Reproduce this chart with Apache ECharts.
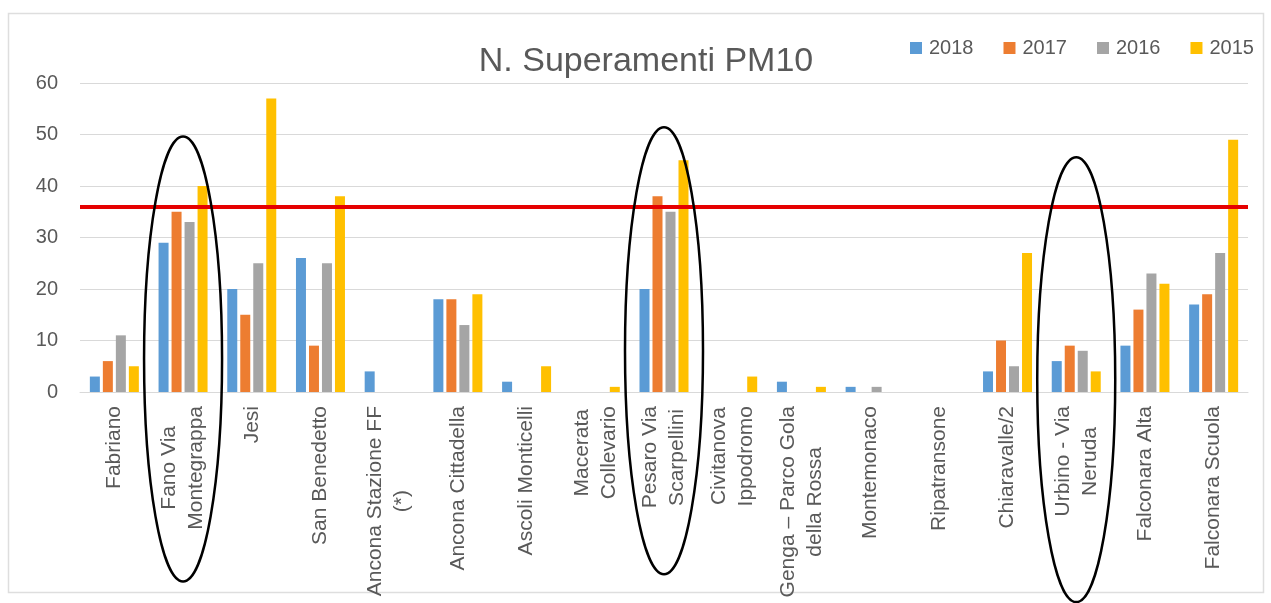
<!DOCTYPE html>
<html>
<head>
<meta charset="utf-8">
<title>N. Superamenti PM10</title>
<script src="https://cdn.jsdelivr.net/npm/echarts@6/dist/echarts.min.js"></script>
<style>
  html, body { margin: 0; padding: 0; background: #ffffff; }
  #chart { width: 1271px; height: 603px; }
</style>
</head>
<body>
<div id="chart"></div>
<script>
// Monitoring stations (line breaks follow the wrapped axis labels)
const stations = [
  'Fabriano',
  'Fano Via\nMontegrappa',
  'Jesi',
  'San Benedetto',
  'Ancona Stazione FF\n(*)',
  'Ancona Cittadella',
  'Ascoli Monticelli',
  'Macerata\nCollevario',
  'Pesaro Via\nScarpellini',
  'Civitanova\nIppodromo',
  'Genga – Parco Gola\ndella Rossa',
  'Montemonaco',
  'Ripatransone',
  'Chiaravalle/2',
  'Urbino - Via\nNeruda',
  'Falconara Alta',
  'Falconara Scuola'
];

// Number of PM10 daily-limit exceedances per year
const years = ['2018', '2017', '2016', '2015'];
const v2018 = [3, 29, 20, 26, 4, 18, 2, 0, 20, 0, 2, 1, 0, 4, 6, 9, 17];
const v2017 = [6, 35, 15, 9, 0, 18, 0, 0, 38, 0, 0, 0, 0, 10, 9, 16, 19];
const v2016 = [11, 33, 25, 25, 0, 13, 0, 0, 35, 0, 0, 1, 0, 5, 8, 23, 27];
const v2015 = [5, 40, 57, 38, 0, 19, 5, 1, 45, 3, 1, 0, 0, 27, 4, 21, 49];

// Reference threshold drawn as a red horizontal line
const limitLine = 36;

// Y axis ticks
const yTicks = { min: 0, max: 60, step: 10 };

// Stations circled on the chart, with the vertical extent of each ellipse in axis units
const circled = [
  { station: 1, top: 49.6, bottom: -36.8 },
  { station: 8, top: 51.4, bottom: -35.4 },
  { station: 14, top: 45.6, bottom: -40.8 }
];

const colors = ['#5B9BD5', '#ED7D31', '#A5A5A5', '#FFC000'];
const textGrey = '#595959';
const fontFamily = '"Liberation Sans", Arial, sans-serif';
const labelSize = 21;

// Wrapped station names: each shorter line is padded on its axis-side end so
// that the lines of one label are centred on each other.
const measureCtx = document.createElement('canvas').getContext('2d');
measureCtx.font = labelSize + 'px "Liberation Sans", Arial, sans-serif';
const labelRich = {
  t: { align: 'right', fontSize: labelSize, lineHeight: 27, color: textGrey, fontFamily: fontFamily }
};
const labelText = {};
stations.forEach(function (name) {
  const lines = name.split('\n');
  const widths = lines.map(function (l) { return measureCtx.measureText(l).width; });
  const maxW = Math.max.apply(null, widths);
  labelText[name] = lines.map(function (l, i) {
    const pad = Math.round((maxW - widths[i]) / 2);
    let s = '{t|' + l + '}';
    if (pad >= 1) {
      const key = 'p' + pad;
      labelRich[key] = { align: 'right', width: pad, fontSize: labelSize, lineHeight: 27, color: 'rgba(0,0,0,0)' };
      s += '{' + key + '| }';
    }
    return s;
  }).join('\n');
});

const chart = echarts.init(document.getElementById('chart'), null, { renderer: 'canvas' });

const seriesValues = [v2018, v2017, v2016, v2015];

const option = {
  animation: false,
  backgroundColor: '#ffffff',
  color: colors,
  textStyle: { fontFamily: fontFamily },
  title: {
    text: 'N. Superamenti PM10',
    left: 641,
    top: 40,
    textAlign: 'center',
    textStyle: { fontSize: 34, fontWeight: 'normal', color: textGrey, fontFamily: fontFamily }
  },
  legend: {
    data: years,
    left: 905,
    top: 33,
    itemWidth: 12,
    itemHeight: 12,
    itemGap: 30,
    icon: 'rect',
    textStyle: { fontSize: 20, color: textGrey, fontFamily: fontFamily, padding: [0, 0, 0, 2] }
  },
  grid: { left: 80, right: 23, top: 83, bottom: 211, containLabel: false },
  xAxis: {
    type: 'category',
    data: stations,
    axisTick: { show: false },
    axisLine: { lineStyle: { color: '#d9d9d9', width: 1 } },
    splitLine: { show: false },
    axisLabel: {
      interval: 0,
      rotate: 90,
      margin: 14,
      color: textGrey,
      fontSize: labelSize,
      lineHeight: 27,
      formatter: function (v) { return labelText[v]; },
      rich: labelRich
    }
  },
  yAxis: {
    type: 'value',
    min: yTicks.min,
    max: yTicks.max,
    interval: yTicks.step,
    axisLine: { show: false },
    axisTick: { show: false },
    splitLine: { lineStyle: { color: '#d9d9d9', width: 1 } },
    axisLabel: { color: textGrey, fontSize: 20, margin: 22, fontFamily: fontFamily }
  },
  series: years.map(function (y, i) {
    const s = {
      name: y,
      type: 'bar',
      data: seriesValues[i],
      barWidth: 10,
      barGap: '30%',
      itemStyle: { color: colors[i] }
    };
    if (i === 3) {
      s.markLine = {
        silent: true,
        symbol: ['none', 'none'],
        label: { show: false },
        lineStyle: { color: '#e50000', width: 4, type: 'solid' },
        data: [{ yAxis: limitLine }],
        z: 10
      };
    }
    return s;
  })
};

chart.setOption(option);

// Chart-area frame and annotation ellipses around selected stations
const graphics = [
  {
    type: 'rect',
    silent: true,
    shape: { x: 8.5, y: 13.5, width: 1255, height: 579 },
    style: { fill: 'none', stroke: '#dedede', lineWidth: 1.5 },
    z: 0
  }
];
circled.forEach(function (c) {
  const cx = chart.convertToPixel({ xAxisIndex: 0 }, c.station);
  const yTop = chart.convertToPixel({ yAxisIndex: 0 }, c.top);
  const yBot = chart.convertToPixel({ yAxisIndex: 0 }, c.bottom);
  graphics.push({
    type: 'ellipse',
    silent: true,
    shape: { cx: cx, cy: (yTop + yBot) / 2, rx: 39, ry: Math.abs(yBot - yTop) / 2 },
    style: { fill: 'none', stroke: '#000000', lineWidth: 2.5 },
    z: 100
  });
});
chart.setOption({ graphic: graphics });
</script>
</body>
</html>
